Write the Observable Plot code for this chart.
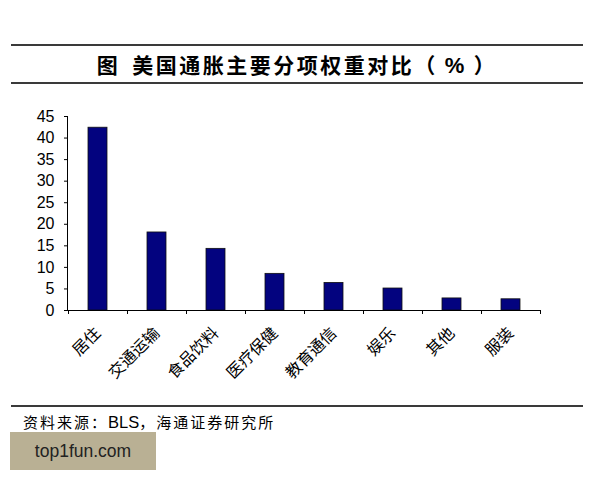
<!DOCTYPE html>
<html>
<head>
<meta charset="utf-8">
<script src="https://cdn.jsdelivr.net/npm/d3@7"></script>
<script src="https://cdn.jsdelivr.net/npm/@observablehq/plot@0.6"></script>
<style>
  html, body { margin: 0; padding: 0; background: #fff; }
  body { width: 600px; height: 480px; position: relative; overflow: hidden; font-family: "Noto Sans CJK SC", sans-serif; color: #000; }
  #title { position: absolute; left: 11px; width: 572px; top: 44px; height: 36px; border-top: 2px solid #3a3a3a; border-bottom: 2px solid #3a3a3a; text-align: center; font-size: 21px; line-height: 36px; font-weight: bold; letter-spacing: 2.5px; }
  #title .gap { display: inline-block; width: 12px; }
  #title .pct { display: inline-block; padding: 0 7px; font-family: "Liberation Sans", Arial, sans-serif; font-size: 22px; }
  #chart { position: absolute; left: 0; top: 90px; }
  #foot { position: absolute; left: 11px; width: 572px; top: 405px; border-top: 2px solid #3a3a3a; }
  #source { position: absolute; left: 23px; top: 411px; font-size: 15px; line-height: 22px; letter-spacing: 2px; white-space: nowrap; }
  #source .latin { font-family: "Liberation Sans", Arial, sans-serif; font-size: 16.5px; letter-spacing: 0; }
  #wm { position: absolute; left: 10px; top: 432px; width: 146px; height: 38px; background: #b9b094; font-family: "Liberation Sans", Arial, sans-serif; font-size: 17.5px; line-height: 38px; text-align: center; color: #222; }
</style>
</head>
<body>
<div id="title">图<span class="gap"></span>美国通胀主要分项权重对比（<span class="pct">%</span>）</div>
<div id="chart"></div>
<div id="foot"></div>
<div id="source">资料来源：<span class="latin">BLS</span>，海通证券研究所</div>
<div id="wm">top1fun.com</div>
<script>
const categories = ["居住", "交通运输", "食品饮料", "医疗保健", "教育通信", "娱乐", "其他", "服装"];
const values = [42.4, 18.1, 14.3, 8.5, 6.4, 5.1, 2.8, 2.6];
const yTicks = [0, 5, 10, 15, 20, 25, 30, 35, 40, 45];

const data = categories.map((c, i) => ({cat: c, value: values[i]}));

function axisLines(index, scales, values, dims) {
  const {x, y} = scales;
  const {width, marginLeft, marginRight} = dims;
  const g = d3.create("svg:g").attr("stroke", "#000").attr("stroke-width", 1).attr("shape-rendering", "crispEdges");
  const y0 = y(0), y1 = y(yTicks[yTicks.length - 1]);
  const xl = marginLeft, xr = width - marginRight;
  g.append("line").attr("x1", xl).attr("x2", xl).attr("y1", y0).attr("y2", y1);
  g.append("line").attr("x1", xl).attr("x2", xr).attr("y1", y0).attr("y2", y0);
  const bw = x.bandwidth ? x.bandwidth() : (xr - xl) / categories.length;
  const edges = categories.map(c => x(c)).concat([x(categories[categories.length - 1]) + bw]);
  edges.forEach(e => g.append("line").attr("x1", e).attr("x2", e).attr("y1", y0).attr("y2", y0 + 4));
  return g.node();
}

const chart = Plot.plot({
  width: 600,
  height: 300,
  marginTop: 26,
  marginBottom: 80,
  marginLeft: 67,
  marginRight: 59,
  style: {background: "#fff", color: "#000", overflow: "visible"},
  x: {domain: categories, padding: 0, axis: null},
  y: {domain: [0, 45], axis: null},
  marks: [
    Plot.barY(data, {x: "cat", y: "value", fill: "#03037f", stroke: "#111", strokeWidth: 0.8, insetLeft: 20, insetRight: 20}),
    Plot.axisY({ticks: yTicks, tickSize: 3, tickPadding: 10, fontSize: 16, fontFamily: "Liberation Sans, Arial, sans-serif", label: null, stroke: "#000"}),
    Plot.axisX({tickSize: 0, tickRotate: -45, tickPadding: 20, fontSize: 16, fontFamily: "Noto Sans CJK SC, sans-serif", label: null, style: {letterSpacing: "1px"}}),
    axisLines
  ]
});
document.getElementById("chart").appendChild(chart);
</script>
</body>
</html>
